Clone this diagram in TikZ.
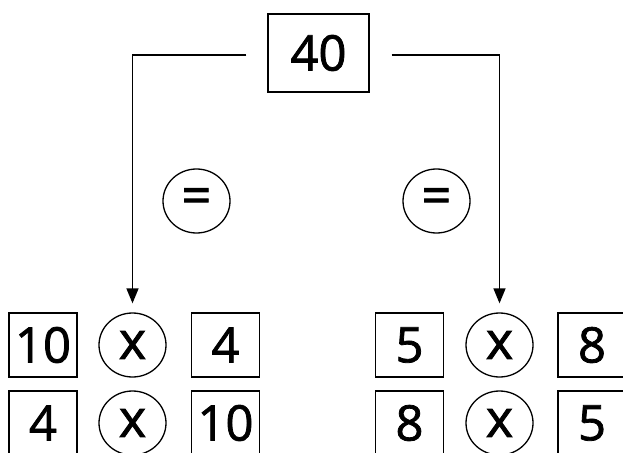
\documentclass[tikz,border=0pt]{standalone}
\usepackage{fontspec}
\setmainfont{Open Sans}
\newfontfamily\numfont[FakeBold=1.6]{Open Sans}
\usetikzlibrary{arrows.meta,shapes.geometric}
\begin{document}
\begin{tikzpicture}[x=1pt,y=-1pt,
  numbox/.style={draw, line width=1.3pt, inner sep=0pt, minimum width=68pt, minimum height=64pt, font=\numfont\fontsize{49}{50}\selectfont},
  opcirc/.style={draw, ellipse, line width=1.3pt, inner sep=0pt, minimum width=67pt, minimum height=64pt, font=\numfont\fontsize{52}{50}\selectfont},
  conn/.style={line width=1.5pt, -{Triangle[length=15pt,width=12pt]}, shorten >=9pt}]
\useasboundingbox (0,0) rectangle (623,452);
\clip (0,0) rectangle (623,452);
\node[numbox, minimum width=101pt, minimum height=78pt] (top) at (318.5,53) {40};
\node[opcirc] (eqL) at (196.5,201) {=};
\node[opcirc] (eqR) at (436.5,201) {=};
% left group
\node[numbox] (a1) at (43,345) {10};
\node[opcirc] (m1) at (132.5,345) {x};
\node[numbox] (b1) at (225.5,345) {4};
\node[numbox] (a2) at (43,423) {4};
\node[opcirc] (m2) at (132.5,423) {x};
\node[numbox] (b2) at (225.5,423) {10};
% right group
\node[numbox] (c1) at (409.5,345) {5};
\node[opcirc] (n1) at (499.5,345) {x};
\node[numbox] (d1) at (592,345) {8};
\node[numbox] (c2) at (409.5,423) {8};
\node[opcirc] (n2) at (499.5,423) {x};
\node[numbox] (d2) at (592,423) {5};
\coordinate (lstart) at ([xshift=-21pt,yshift=-2pt]top.west);
\coordinate (rstart) at ([xshift=22pt,yshift=-2pt]top.east);
\draw[conn] (lstart) -| (m1.north);
\draw[conn] (rstart) -| (n1.north);
\end{tikzpicture}
\end{document}
